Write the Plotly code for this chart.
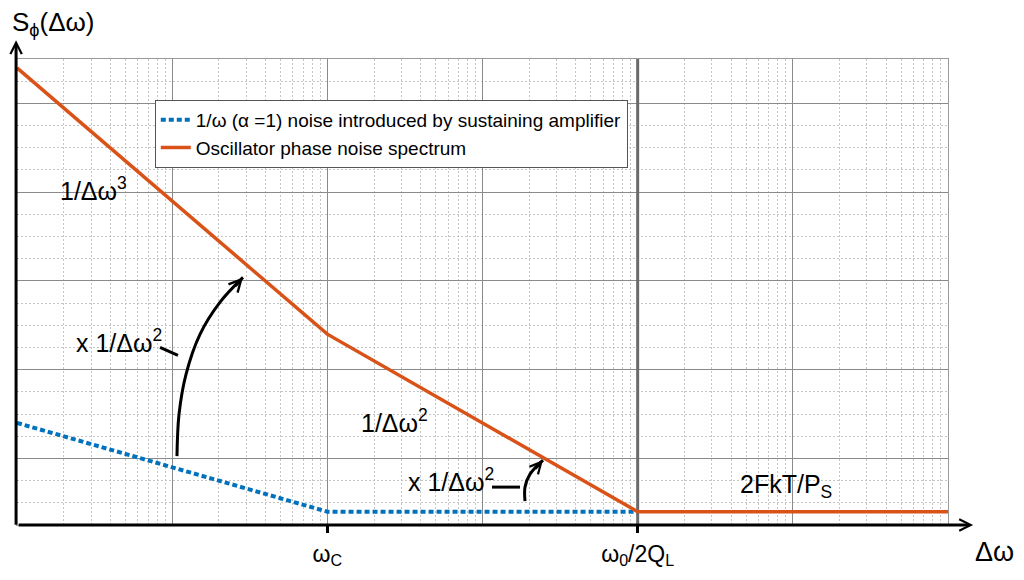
import numpy as np
import plotly.graph_objects as go

# ---------------- data ----------------
# offset frequency (arbitrary log units) and spectral level (linear plot units, 10 per major grid)
osc_x = [1, 100, 1e4, 1e6]
osc_y = [44, 14, -6, -6]          # 1/Δω^3 -> 1/Δω^2 -> flat 2FkT/Ps
amp_x = [1, 100, 1e4]
amp_y = [4, -6, -6]               # 1/ω flicker -> flat
corner_x = [1e4, 1e4]
corner_y = [-7.5, 45]

legend_names = ["1/ω (α =1) noise introduced by sustaining amplifier",
                "Oscillator phase noise spectrum"]
tick_vals = [100, 1e4]
tick_text = ["ω<sub>C</sub>", "ω<sub>0</sub>/2Q<sub>L</sub>"]

# annotation geometry (curved arrows and small leader lines)
arrow1_x = [10.74, 11.07, 12.28, 15.11, 20.3, 28.6]
arrow1_y = [0.26, 4.98, 9.48, 13.98, 17.58, 20.39]
arrow2_x = [1879, 1879, 2024, 2455]
arrow2_y = [-4.8, -3.23, -1.77, -0.19]
lead1_x = [8.35, 10.9]
lead1_y = [12.52, 11.62]
lead2_x = [1151, 1745]
lead2_y = [-3.23, -3.23]

labels = [
    ("1/Δω<sup>3</sup>", 3.1, 30.3),
    ("x 1/Δω<sup>2</sup>", 4.55, 13.2),
    ("1/Δω<sup>2</sup>", 270, 4.2),
    ("x 1/Δω<sup>2</sup>", 627, -2.45),
    ("2FkT/P<sub>S</sub>", 90400, -3.1),
]

BLUE = "#0072BD"
ORANGE = "#D95319"
FONT = "Liberation Sans"

fig = go.Figure()

fig.add_trace(go.Scatter(x=corner_x, y=corner_y, mode="lines",
                         line=dict(color="#6a6a6a", width=3), showlegend=False,
                         hoverinfo="skip"))
fig.add_trace(go.Scatter(x=amp_x, y=amp_y, mode="lines", name=legend_names[0],
                         line=dict(color=BLUE, width=4, dash="5px,3px")))
fig.add_trace(go.Scatter(x=osc_x, y=osc_y, mode="lines", name=legend_names[1],
                         line=dict(color=ORANGE, width=3.5)))

for xs, ys, shp in [(arrow1_x, arrow1_y, "spline"), (arrow2_x, arrow2_y, "spline"),
                    (lead1_x, lead1_y, "linear"), (lead2_x, lead2_y, "linear")]:
    fig.add_trace(go.Scatter(x=xs, y=ys, mode="lines",
                             line=dict(color="black", width=3, shape=shp),
                             showlegend=False, hoverinfo="skip"))

# dummy trace for the tick-label axis
fig.add_trace(go.Scatter(x=[], y=[], xaxis="x2", showlegend=False))

annotations = []
for txt, xv, yv in labels:
    annotations.append(dict(x=np.log10(xv), y=yv, xref="x", yref="y", text=txt,
                            showarrow=False, font=dict(family=FONT, size=25, color="black")))

# arrowheads of the curved arrows
annotations.append(dict(x=np.log10(arrow1_x[-1]), y=arrow1_y[-1], xref="x", yref="y",
                        text="", showarrow=True, arrowhead=5, arrowsize=0.8, arrowwidth=3,
                        arrowcolor="black", ax=-9, ay=10, standoff=0))
annotations.append(dict(x=np.log10(arrow2_x[-1]), y=arrow2_y[-1], xref="x", yref="y",
                        text="", showarrow=True, arrowhead=5, arrowsize=0.75, arrowwidth=3,
                        arrowcolor="black", ax=-9, ay=10, standoff=0))

# axis arrows
annotations.append(dict(x=1.027, y=0, xref="paper", yref="paper", text="",
                        showarrow=True, arrowhead=5, arrowsize=0.75, arrowwidth=3,
                        arrowcolor="black", ax=-956, ay=0, standoff=0))
annotations.append(dict(x=-0.001, y=1.0405, xref="paper", yref="paper", text="",
                        showarrow=True, arrowhead=5, arrowsize=0.75, arrowwidth=3,
                        arrowcolor="black", ax=0, ay=486, standoff=0))

# axis titles
annotations.append(dict(x=-0.0075, y=1.077, xref="paper", yref="paper",
                        xanchor="left", yanchor="middle",
                        text="S<sub>ϕ</sub>(Δω)", showarrow=False,
                        font=dict(family=FONT, size=26, color="black")))
annotations.append(dict(x=1.0735, y=-0.057, xref="paper", yref="paper",
                        xanchor="right", yanchor="middle",
                        text="Δω", showarrow=False,
                        font=dict(family=FONT, size=27, color="black")))

# the page body adds an 8px offset; the figure is sized so the plot lands
# where the reference has it (plot area x 17..948, y 59..525) and the page
# does not overflow the 1024x580 window
fig.update_layout(
    width=1008, height=564,
    margin=dict(l=9, r=68, t=51, b=47, autoexpand=False),
    paper_bgcolor="white", plot_bgcolor="white",
    showlegend=True,
    legend=dict(x=0.148, y=0.912, xanchor="left", yanchor="top",
                bgcolor="white", bordercolor="#555555", borderwidth=1,
                font=dict(family=FONT, size=19, color="black"),
                itemwidth=30, tracegroupgap=0),
    annotations=annotations,
    xaxis=dict(type="log", range=[0, 6], tickmode="linear", tick0=0, dtick=1,
               showticklabels=False, ticks="", showgrid=True, automargin=False,
               gridcolor="#8a8a8a", gridwidth=1, zeroline=False,
               showline=True, mirror=True, linecolor="#9a9a9a", linewidth=1,
               minor=dict(dtick="D1", showgrid=True, gridcolor="#c4c4c4",
                          griddash="2px,2px", gridwidth=1, ticks="")),
    xaxis2=dict(type="log", range=[0, 6], overlaying="x", side="bottom", anchor="y",
                tickmode="array", tickvals=tick_vals, ticktext=tick_text,
                ticks="outside", ticklen=7, tickwidth=3, tickcolor="black",
                showgrid=False, zeroline=False, showline=False, automargin=False,
                ticklabelstandoff=1,
                tickfont=dict(family=FONT, size=23, color="black")),
    yaxis=dict(range=[-7.5, 45], tickmode="linear", tick0=0, dtick=10,
               showticklabels=False, ticks="", showgrid=True, automargin=False,
               gridcolor="#8a8a8a", gridwidth=1, zeroline=False,
               showline=True, mirror=True, linecolor="#9a9a9a", linewidth=1,
               minor=dict(tick0=0, dtick=2.5, showgrid=True, gridcolor="#c4c4c4",
                          griddash="2px,2px", gridwidth=1, ticks="")),
)

fig.write_html("out.html")
